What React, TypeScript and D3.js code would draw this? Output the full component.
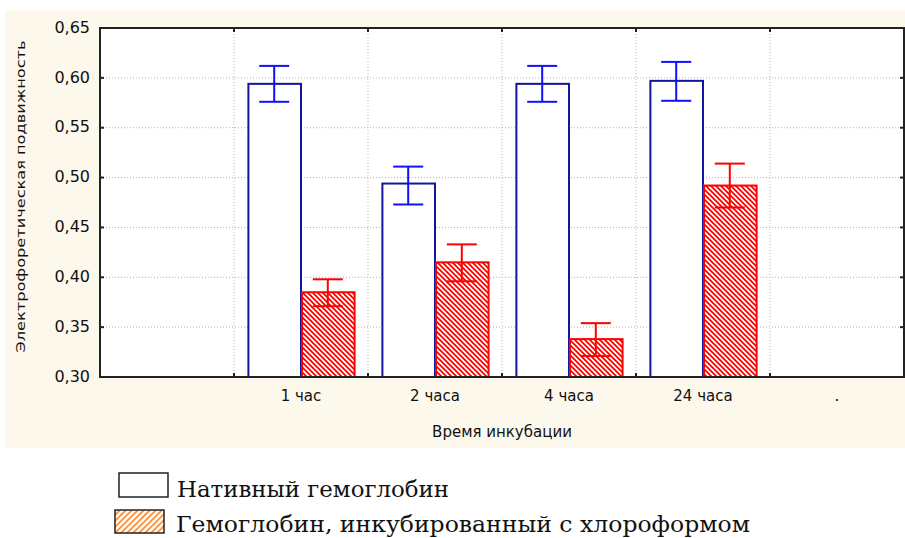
import React from "react";
import * as d3 from "d3";

const width = 905;
const height = 538;
const margin = { top: 28, right: 1, bottom: 161, left: 100 };

const categories = ["", "1 час", "2 часа", "4 часа", "24 часа", "."];
const groups = ["1 час", "2 часа", "4 часа", "24 часа"];
const series = ["Нативный гемоглобин", "Гемоглобин, инкубированный с хлороформом"];

const nativeMean = [0.594, 0.494, 0.594, 0.597];
const nativeLow = [0.576, 0.473, 0.576, 0.577];
const nativeHigh = [0.612, 0.511, 0.612, 0.616];

const chlMean = [0.385, 0.415, 0.338, 0.492];
const chlLow = [0.371, 0.396, 0.321, 0.470];
const chlHigh = [0.398, 0.433, 0.354, 0.514];

const yTicks = [0.3, 0.35, 0.4, 0.45, 0.5, 0.55, 0.6, 0.65];

const fmt = (v: number) => v.toFixed(2).replace(".", ",");

export default function App() {
  const x0 = margin.left;
  const x1 = width - margin.right;
  const y0 = height - margin.bottom;
  const yTop = margin.top;

  const xScale = d3.scaleBand().domain(categories).range([x0, x1]).padding(0);
  const inner = d3
    .scaleBand()
    .domain(series)
    .range([0, xScale.bandwidth()])
    .paddingInner(0)
    .paddingOuter(0.25);
  const yScale = d3.scaleLinear().domain([0.3, 0.65]).range([y0, yTop]);

  const bounds = categories.slice(1).map(c => xScale(c) as number);

  const bars = groups.flatMap((g, i) => [
    { key: g + "n", x: (xScale(g) as number) + (inner(series[0]) as number), mean: nativeMean[i], lo: nativeLow[i], hi: nativeHigh[i], kind: 0 },
    { key: g + "c", x: (xScale(g) as number) + (inner(series[1]) as number), mean: chlMean[i], lo: chlLow[i], hi: chlHigh[i], kind: 1 },
  ]);
  const bw = inner.bandwidth();

  const axisFont = "'DejaVu Sans', Arial, sans-serif";

  return (
    <svg width={width} height={height} style={{ position: "absolute", left: 0, top: 0 }}>
      <defs>
        <pattern id="hatchRed" patternUnits="userSpaceOnUse" width={5} height={5}>
          <rect width={5} height={5} fill="#fff" />
          <path d="M-1,-1 L6,6 M-1,4 L1,6 M4,-1 L6,1" stroke="#ff0000" strokeWidth={1.8} />
        </pattern>
        <pattern id="hatchOrange" patternUnits="userSpaceOnUse" width={6} height={6}>
          <rect width={6} height={6} fill="#fff" />
          <path d="M-1,7 L7,-1 M-1,1 L1,-1 M5,7 L7,5" stroke="#ff8a2a" strokeWidth={1.6} />
        </pattern>
      </defs>
      <rect x={0} y={0} width={width} height={height} fill="#fff" />
      <rect x={5} y={10} width={900} height={438} fill="#fdf8ec" />
      <rect x={x0} y={yTop} width={x1 - x0} height={y0 - yTop} fill="#fff" />

      {/* grid */}
      {yTicks.slice(1, -1).map(t => (
        <line key={"gy" + t} x1={x0} x2={x1} y1={yScale(t)} y2={yScale(t)} stroke="#b4b4b4" strokeWidth={1} strokeDasharray="1,2" />
      ))}
      {bounds.map(b => (
        <line key={"gx" + b} x1={b} x2={b} y1={yTop} y2={y0} stroke="#b4b4b4" strokeWidth={1} strokeDasharray="1,2" />
      ))}

      {/* bars */}
      {bars.map(b => (
        <rect
          key={b.key}
          x={b.x + 1}
          y={yScale(b.mean)}
          width={bw - 1}
          height={y0 - yScale(b.mean)}
          fill={b.kind === 0 ? "#fff" : "url(#hatchRed)"}
          stroke={b.kind === 0 ? "#14149c" : "#ff0000"}
          strokeWidth={2}
        />
      ))}
      {bars.map(b => {
        const cx = b.x + bw / 2;
        const c = b.kind === 0 ? "#1010ff" : "#ff0000";
        return (
          <g key={"e" + b.key} stroke={c} strokeWidth={2}>
            <line x1={cx} x2={cx} y1={yScale(b.hi)} y2={yScale(b.lo)} />
            <line x1={cx - 15} x2={cx + 15} y1={yScale(b.hi)} y2={yScale(b.hi)} />
            <line x1={cx - 15} x2={cx + 15} y1={yScale(b.lo)} y2={yScale(b.lo)} />
          </g>
        );
      })}

      {/* frame and ticks */}
      <rect x={x0} y={yTop} width={x1 - x0} height={y0 - yTop} fill="none" stroke="#222" strokeWidth={2} />
      {yTicks.slice(1, -1).map(t => (
        <g key={"yt" + t} stroke="#222" strokeWidth={2}>
          <line x1={x0} x2={x0 + 4} y1={yScale(t)} y2={yScale(t)} />
          <line x1={x1 - 4} x2={x1} y1={yScale(t)} y2={yScale(t)} />
        </g>
      ))}
      {bounds.map(b => (
        <g key={"xt" + b} stroke="#222" strokeWidth={2}>
          <line x1={b} x2={b} y1={y0} y2={y0 - 4} />
          <line x1={b} x2={b} y1={yTop} y2={yTop + 4} />
        </g>
      ))}

      {/* tick labels */}
      {yTicks.map(t => (
        <text key={"yl" + t} x={90} y={yScale(t) - 1} dy="0.36em" textAnchor="end" fontFamily={axisFont} fontSize={16} fill="#111">
          {fmt(t)}
        </text>
      ))}
      {categories.map(c => (
        <text key={"xl" + c} x={(xScale(c) as number) + xScale.bandwidth() / 2} y={401} textAnchor="middle" fontFamily={axisFont} fontSize={15} fill="#111">
          {c}
        </text>
      ))}
      <text x={(x0 + x1) / 2} y={437} textAnchor="middle" fontFamily={axisFont} fontSize={15} fill="#111">
        Время инкубации
      </text>
      <text
        transform={`translate(25,${(yTop + y0) / 2 - 6}) rotate(-90)`}
        textAnchor="middle"
        fontFamily={axisFont}
        fontSize={13}
        fill="#111"
        textLength={312}
        lengthAdjust="spacingAndGlyphs"
      >
        Электрофоретическая подвижность
      </text>

      {/* legend */}
      <rect x={119} y={473} width={49} height={24} fill="#fff" stroke="#222" strokeWidth={1.5} />
      <text x={177} y={497} fontFamily="'DejaVu Serif', serif" fontSize={23} fill="#111" textLength={272} lengthAdjust="spacingAndGlyphs">
        {series[0]}
      </text>
      <rect x={115} y={510} width={49} height={23} fill="url(#hatchOrange)" stroke="#222" strokeWidth={1.5} />
      <text x={176} y={532} fontFamily="'DejaVu Serif', serif" fontSize={23} fill="#111" textLength={574} lengthAdjust="spacingAndGlyphs">
        {series[1]}
      </text>
    </svg>
  );
}
